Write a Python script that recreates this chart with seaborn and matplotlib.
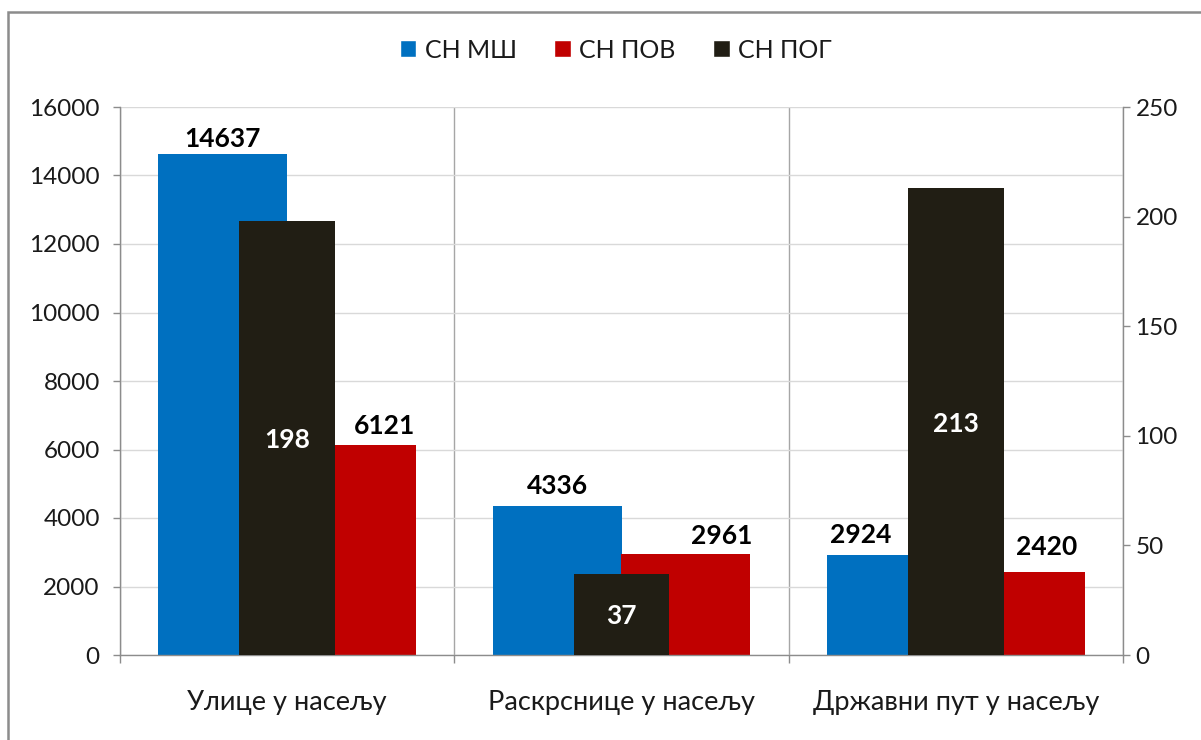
import matplotlib
matplotlib.use("Agg")
import matplotlib.pyplot as plt
from matplotlib.patches import Patch, Rectangle
import seaborn as sns
import pandas as pd

# ---------------- data ----------------
categories = ["Улице у насељу", "Раскрснице у насељу", "Државни пут у насељу"]
series_primary = ["СН МШ", "СН ПОВ"]
sn_msh = [14637, 4336, 2924]
sn_pov = [6121, 2961, 2420]
series_secondary = "СН ПОГ"
sn_pog = [198, 37, 213]
left_ticks = [0, 2000, 4000, 6000, 8000, 10000, 12000, 14000, 16000]
right_ticks = [0, 50, 100, 150, 200, 250]

# ---------------- style ----------------
C_BLUE = "#0070C0"
C_RED = "#C00000"
C_BLACK = "#211E14"
C_AXIS = "#8C8C8C"
C_GRID = "#D9D9D9"
C_VGRID = "#A6A6A6"
C_TEXT = "#1A1A1A"

sns.set_theme(style="white")
plt.rcParams["font.family"] = ["Lato", "DejaVu Sans"]

W, H = 1201, 740
fig = plt.figure(figsize=(W / 100, H / 100), dpi=100)
fig.patch.set_facecolor("white")

L, R, T, B = 120, 1123, 107, 655
ax = fig.add_axes([L / W, 1 - B / H, (R - L) / W, (B - T) / H])

df = pd.DataFrame({
    "Категорија": categories * 2,
    "Серија": [s for s in series_primary for _ in categories],
    "Вредност": sn_msh + sn_pov,
})
sns.barplot(data=df, x="Категорија", y="Вредност", hue="Серија",
            palette=[C_BLUE, C_RED], width=0.77, saturation=1, ax=ax,
            legend=False, linewidth=0, errorbar=None)

ax2 = ax.twinx()
sns.barplot(x=categories, y=sn_pog, color=C_BLACK, width=0.287,
            saturation=1, ax=ax2, linewidth=0, errorbar=None)

# ---------------- axes ----------------
ax.set_xlim(-0.5, len(categories) - 0.5)
ax.set_ylim(0, left_ticks[-1])
ax.set_yticks(left_ticks)
ax.set_yticklabels([str(v) for v in left_ticks])
ax2.set_ylim(0, right_ticks[-1])
ax2.set_yticks(right_ticks)
ax2.set_yticklabels([str(v) for v in right_ticks])
for a in (ax, ax2):
    a.set_xlabel("")
    a.set_ylabel("")

ax.set_xticks(range(len(categories)))
ax.set_xticklabels(categories)
ax.set_xticks([i - 0.5 for i in range(len(categories) + 1)], minor=True)
ax.tick_params(axis="x", which="major", length=0, pad=25, labelsize=19.5,
               labelcolor=C_TEXT)
ax.tick_params(axis="x", which="minor", direction="out", length=5.5,
               width=1, color=C_AXIS, bottom=True)
ax.tick_params(axis="y", direction="out", length=5, width=1, color=C_AXIS,
               labelsize=17.5, pad=9.5, labelcolor=C_TEXT, left=True)
ax2.tick_params(axis="y", direction="out", length=5, width=1, color=C_AXIS,
                labelsize=17.5, pad=4, labelcolor=C_TEXT, right=True)

ax.set_axisbelow(True)
ax.yaxis.grid(True, color=C_GRID, linewidth=1)
ax.xaxis.grid(True, which="minor", color=C_VGRID, linewidth=1)
ax.xaxis.grid(False, which="major")

for a in (ax, ax2):
    for s in a.spines.values():
        s.set_color(C_AXIS)
        s.set_linewidth(1)
    a.spines["top"].set_visible(False)
ax.spines["right"].set_visible(False)
ax2.spines["left"].set_visible(False)
ax2.spines["bottom"].set_visible(False)

# ---------------- labels ----------------
PX = 0.72  # pixels -> points
blue_off = [(0, 7), (0, 12), (-31, 12)]
red_off = [(33, 11), (36, 10), (26, 17)]
for cont, vals, offs in ((ax.containers[0], sn_msh, blue_off),
                         (ax.containers[1], sn_pov, red_off)):
    for bar, v, (dx, dy) in zip(cont, vals, offs):
        ax.annotate(str(v), xy=(bar.get_x() + bar.get_width() / 2, bar.get_height()),
                    xytext=(dx * PX, dy * PX), textcoords="offset points",
                    ha="center", va="baseline", fontsize=19,
                    fontweight="bold", color="black")
for bar, v in zip(ax2.containers[0], sn_pog):
    ax2.annotate(str(v), xy=(bar.get_x() + bar.get_width() / 2, bar.get_height() / 2),
                 ha="center", va="center_baseline", fontsize=19,
                 fontweight="bold", color="white")

# ---------------- legend ----------------
handles = [Patch(facecolor=C_BLUE, label=series_primary[0]),
           Patch(facecolor=C_RED, label=series_primary[1]),
           Patch(facecolor=C_BLACK, label=series_secondary)]
fig.legend(handles=handles, loc="center", bbox_to_anchor=(616 / W, 1 - 50 / H),
           ncol=3, frameon=False, fontsize=18, handlelength=0.65,
           handleheight=0.65, handletextpad=0.35, columnspacing=1.5,
           labelcolor=C_TEXT)

# ---------------- chart frame ----------------
fig.add_artist(Rectangle((8 / W, -0.05), 1.2, 1 - 12 / H + 0.05,
                         transform=fig.transFigure, fill=False,
                         edgecolor=C_AXIS, linewidth=1.8, clip_on=False))

fig.savefig("out.png", dpi=100, facecolor="white")
